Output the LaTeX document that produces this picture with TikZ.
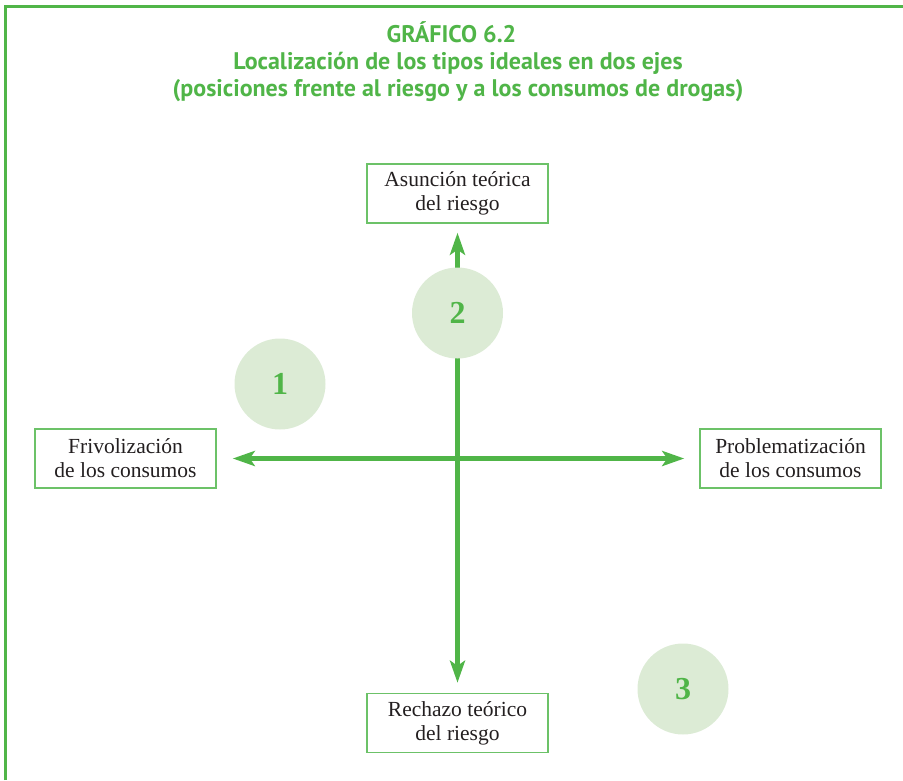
\documentclass[tikz,border=0pt]{standalone}
\usepackage{fontspec}
\setmainfont{Liberation Serif}
\newfontfamily\titlefont{PT Sans Bold}
\usetikzlibrary{arrows.meta}
\definecolor{gline}{RGB}{80,181,72}
\definecolor{gbox}{RGB}{108,194,104}
\definecolor{gfill}{RGB}{220,235,213}
\definecolor{txt}{RGB}{35,31,32}
\tikzset{
  lbox/.style={draw=gbox, line width=1.5pt, minimum width=181pt, minimum height=59pt,
    inner sep=0pt, align=center, text=txt, font=\fontsize{21.5}{24}\selectfont},
  axisline/.style={draw=gline, line width=4.5pt,
    -{Stealth[length=22pt,width=15pt,inset=5pt]}},
  typecirc/.style={circle, fill=gfill, minimum size=91pt, inner sep=0pt,
    text=gline, font=\fontsize{32}{32}\selectfont\bfseries},
  titletext/.style={anchor=base, text=gline, font=\titlefont\fontsize{24}{24}\selectfont},
  frameline/.style={draw=gline, line width=2.6pt},
}
\begin{document}
\begin{tikzpicture}[x=1pt,y=-1pt]
\useasboundingbox (0,0) rectangle (903,780);
% frame
\draw[frameline] (5.3,780) -- (5.3,6.2) -- (903,6.2);
% title
\node[titletext] (t1) at (451.5,42.7) {GRÁFICO 6.2};
\node[titletext] (t2) at (458,69.3) {Localización de los tipos ideales en dos ejes};
\node[titletext] (t3) at (458,96) {(posiciones frente al riesgo y a los consumos de drogas)};
% boxes
\node[lbox] (asun) at (457.5,193.5) {Asunción teórica\\del riesgo};
\node[lbox] (frv) at (125.5,458.5) {Frivolización\\de los consumos};
\node[lbox] (prob) at (790.5,458.5) {Problematización\\de los consumos};
\node[lbox] (rech) at (457.5,723) {Rechazo teórico\\del riesgo};
% axes
\coordinate (c) at (457.5,458.5);
\draw[axisline, shorten >=9pt] (c) -- (c |- asun.south);
\draw[axisline, shorten >=10pt] (c) -- (c |- rech.north);
\draw[axisline, shorten >=16pt] (c) -- (c -| frv.east);
\draw[axisline, shorten >=15pt] (c) -- (c -| prob.west);
% circles
\node[typecirc] (n1) at (280,384) {1};
\node[typecirc] (n2) at (457.5,313) {2};
\node[typecirc] (n3) at (683,689) {3};
\end{tikzpicture}
\end{document}
